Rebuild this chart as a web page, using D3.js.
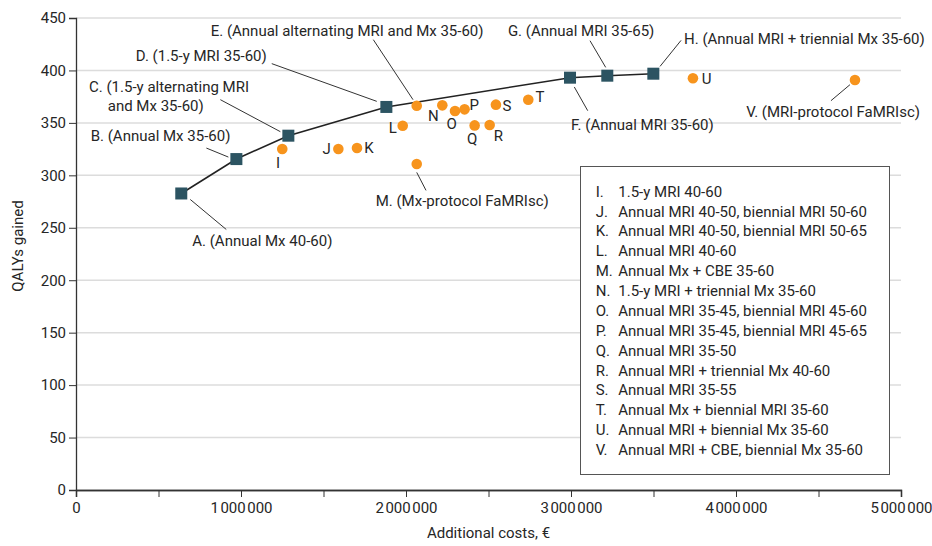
<!DOCTYPE html>
<html>
<head>
<meta charset="utf-8">
<script src="https://cdn.jsdelivr.net/npm/d3@7"></script>
<style>
  body { margin: 0; background: #fff; }
  svg { font-family: Roboto, "Liberation Sans", sans-serif; }
  text { fill: #262626; }
</style>
</head>
<body>
<div id="chart"></div>
<script>
// efficient frontier strategies (squares, joined by the line)
var frontierLetters = ['A', 'B', 'C', 'D', 'F', 'G', 'H'];
var frontierCosts = [638000, 972000, 1287000, 1881000, 2994000, 3220000, 3499000];
var frontierQalys = [282.7, 315.5, 337.8, 365.2, 393.1, 395.0, 396.9];

// dominated strategies (orange dots)
var otherLetters = ['E', 'I', 'J', 'K', 'L', 'M', 'N', 'O', 'P', 'Q', 'R', 'S', 'T', 'U', 'V'];
var otherCosts = [2065000, 1250000, 1590000, 1703000, 1980000, 2065000, 2220000, 2297000, 2355000, 2416000, 2507000, 2545000, 2741000, 3739000, 4721000];
var otherQalys = [366.4, 325.1, 325.1, 326.0, 347.3, 310.8, 366.7, 361.3, 362.9, 347.6, 348.0, 367.4, 372.1, 392.5, 390.9];

// callout texts on the chart
var calloutLetters = ['A', 'B', 'C', 'D', 'E', 'F', 'G', 'H', 'M', 'V'];
var calloutTexts = [
    ['A. (Annual Mx 40-60)'],
    ['B. (Annual Mx 35-60)'],
    ['C. (1.5-y alternating MRI', 'and Mx 35-60)'],
    ['D. (1.5-y MRI 35-60)'],
    ['E. (Annual alternating MRI and Mx 35-60)'],
    ['F. (Annual MRI 35-60)'],
    ['G. (Annual MRI 35-65)'],
    ['H. (Annual MRI + triennial Mx 35-60)'],
    ['M. (Mx-protocol FaMRIsc)'],
    ['V. (MRI-protocol FaMRIsc)']
];

// legend box
var legendLetters = ['I.', 'J.', 'K.', 'L.', 'M.', 'N.', 'O.', 'P.', 'Q.', 'R.', 'S.', 'T.', 'U.', 'V.'];
var legendTexts = [
    '1.5-y MRI 40-60',
    'Annual MRI 40-50, biennial MRI 50-60',
    'Annual MRI 40-50, biennial MRI 50-65',
    'Annual MRI 40-60',
    'Annual Mx + CBE 35-60',
    '1.5-y MRI + triennial Mx 35-60',
    'Annual MRI 35-45, biennial MRI 45-60',
    'Annual MRI 35-45, biennial MRI 45-65',
    'Annual MRI 35-50',
    'Annual MRI + triennial Mx 40-60',
    'Annual MRI 35-55',
    'Annual Mx + biennial MRI 35-60',
    'Annual MRI + biennial Mx 35-60',
    'Annual MRI + CBE, biennial Mx 35-60'
];

var xTicks = [0, 1000000, 2000000, 3000000, 4000000, 5000000];
var xMinorTicks = [500000, 1500000, 2500000, 3500000, 4500000];
var yTicks = [0, 50, 100, 150, 200, 250, 300, 350, 400, 450];

var svgWidth = 932;
var svgHeight = 546;
var margin = {top: 18, right: 31, bottom: 56, left: 76};
var width = svgWidth - margin.left - margin.right;
var height = svgHeight - margin.top - margin.bottom;

var svg = d3.select('#chart')
    .append('svg')
    .attr('width', svgWidth)
    .attr('height', svgHeight);

var chartGroup = svg.append('g')
    .attr('transform', `translate(${margin.left}, ${margin.top})`);

var xScale = d3.scaleLinear().domain([0, 5000000]).range([0, width]);
var yScale = d3.scaleLinear().domain([0, 450]).range([height, 0]);

// gridlines
chartGroup.selectAll('line.grid')
    .data(yTicks.slice(1))
    .enter()
    .append('line')
    .attr('class', 'grid')
    .attr('x1', 0)
    .attr('x2', width)
    .attr('y1', d => yScale(d))
    .attr('y2', d => yScale(d))
    .attr('stroke', '#dcdcdc')
    .attr('stroke-width', 1.5);

// thousands separated by a narrow space
var fmt = d => d === 0 ? '0' : d3.format(',')(d).replace(/,/g, '\u200A');

var xAxis = d3.axisBottom(xScale).tickValues(xTicks).tickFormat(fmt).tickSize(7).tickPadding(5);
var xMinor = d3.axisBottom(xScale).tickValues(xMinorTicks).tickFormat('').tickSize(7);
var yAxis = d3.axisLeft(yScale).tickValues(yTicks).tickSize(7).tickPadding(3);

chartGroup.append('g')
    .attr('transform', `translate(0,${height})`)
    .call(xMinor);
chartGroup.append('g')
    .attr('class', 'xaxis')
    .attr('transform', `translate(0,${height})`)
    .call(xAxis);
chartGroup.append('g')
    .attr('class', 'yaxis')
    .call(yAxis);

svg.selectAll('.domain').attr('stroke', '#333').attr('stroke-width', 1.3);
svg.selectAll('.tick line').attr('stroke', '#333').attr('stroke-width', 1);
svg.selectAll('.tick text')
    .attr('font-size', 15)
    .attr('fill', '#262626')
    .style('font-family', 'Roboto, sans-serif');

// axis titles
chartGroup.append('text')
    .attr('x', width / 2)
    .attr('y', height + 43)
    .attr('text-anchor', 'middle')
    .attr('dominant-baseline', 'central')
    .attr('font-size', 15)
    .text('Additional costs, €');

chartGroup.append('text')
    .attr('transform', 'rotate(-90)')
    .attr('x', -228)
    .attr('y', 0 - margin.left + 18)
    .attr('text-anchor', 'middle')
    .attr('dominant-baseline', 'central')
    .attr('font-size', 15)
    .text('QALYs gained');

// frontier line
var frontier = frontierCosts.map((c, i) => ({letter: frontierLetters[i], cost: c, qaly: frontierQalys[i]}));
var others = otherCosts.map((c, i) => ({letter: otherLetters[i], cost: c, qaly: otherQalys[i]}));
var all = frontier.concat(others);
var byLetter = {};
all.forEach(d => { byLetter[d.letter] = d; });

chartGroup.append('path')
    .datum(frontier)
    .attr('fill', 'none')
    .attr('stroke', '#222')
    .attr('stroke-width', 1.6)
    .attr('d', d3.line().x(d => xScale(d.cost)).y(d => yScale(d.qaly)));

// callout leader lines and texts (offsets in px from the mark)
var calloutLayout = {
    A: {line: [9, 6, 45, 36], tx: 11, ty: 48, anchor: 'start'},
    B: {line: [-30, -11, -8, -2], tx: -6, ty: -22.6, anchor: 'end'},
    C: {line: [-68, -36, -8, -4], tx: -199.3, ty: -48.7, anchor: 'start', indent: 18.7},
    D: {line: [-114.6, -43.3, -9.6, -5.6], tx: -119.6, ty: -51.3, anchor: 'end'},
    E: {line: [-43.4, -66, -3.7, -6], tx: -206, ty: -75, anchor: 'start'},
    F: {line: [4.3, 9.3, 17.7, 33], tx: 1, ty: 47, anchor: 'start'},
    G: {line: [-17.3, -35, -1.6, -8.3], tx: 47, ty: -44.3, anchor: 'end'},
    H: {line: [6.7, -7.3, 27.7, -33.3], tx: 30.7, ty: -34.7, anchor: 'start'},
    M: {line: [0, 8.4, 9.3, 26.4], tx: -41, ty: 37.4, anchor: 'start'},
    V: {line: [-5, 4.7, -24, 20.7], tx: 65, ty: 32, anchor: 'end'}
};

calloutLetters.forEach((letter, i) => {
    var d = byLetter[letter];
    var px = xScale(d.cost), py = yScale(d.qaly);
    var lay = calloutLayout[letter];
    chartGroup.append('line')
        .attr('x1', px + lay.line[0])
        .attr('y1', py + lay.line[1])
        .attr('x2', px + lay.line[2])
        .attr('y2', py + lay.line[3])
        .attr('stroke', '#333')
        .attr('stroke-width', 1);
    calloutTexts[i].forEach((t, j) => {
        chartGroup.append('text')
            .attr('x', px + lay.tx + (j > 0 ? lay.indent : 0))
            .attr('y', py + lay.ty + j * 18.7)
            .attr('text-anchor', lay.anchor)
            .attr('dominant-baseline', 'central')
            .attr('font-size', 15)
            .text(t);
    });
});

// single letters next to dots
var letterOffsets = {
    I: [-4.3, 13.7], J: [-11.6, 0], K: [12, 0], L: [-10, 2.3], N: [-9, 10.3],
    O: [-3.3, 12.7], P: [9.6, -4.4], Q: [-2.4, 13.6], R: [8.6, 10.7], S: [11, 1.3],
    T: [11.7, -2.3], U: [13.7, 0.6]
};
chartGroup.selectAll('text.pointLetter')
    .data(others.filter(d => letterOffsets[d.letter]))
    .enter()
    .append('text')
    .attr('class', 'pointLetter')
    .attr('x', d => xScale(d.cost) + letterOffsets[d.letter][0])
    .attr('y', d => yScale(d.qaly) + letterOffsets[d.letter][1])
    .attr('text-anchor', 'middle')
    .attr('dominant-baseline', 'central')
    .attr('font-size', 15)
    .text(d => d.letter);

// marks
chartGroup.selectAll('circle')
    .data(others)
    .enter()
    .append('circle')
    .attr('cx', d => xScale(d.cost))
    .attr('cy', d => yScale(d.qaly))
    .attr('r', 5.3)
    .attr('fill', '#f7941d');

chartGroup.selectAll('rect.frontier')
    .data(frontier)
    .enter()
    .append('rect')
    .attr('class', 'frontier')
    .attr('x', d => xScale(d.cost) - 6)
    .attr('y', d => yScale(d.qaly) - 6)
    .attr('width', 12)
    .attr('height', 12)
    .attr('fill', '#2c5462');

// legend
var legendGroup = svg.append('g');
legendGroup.append('rect')
    .attr('x', 580.5)
    .attr('y', 166.5)
    .attr('width', 309)
    .attr('height', 308)
    .attr('fill', '#fff')
    .attr('stroke', '#555')
    .attr('stroke-width', 1);

legendGroup.selectAll('text.legLetter')
    .data(legendLetters)
    .enter()
    .append('text')
    .attr('class', 'legLetter')
    .attr('x', 595.7)
    .attr('y', (d, i) => 191.7 + i * 19.87)
    .attr('dominant-baseline', 'central')
    .attr('font-size', 15)
    .text(d => d);

legendGroup.selectAll('text.legText')
    .data(legendTexts)
    .enter()
    .append('text')
    .attr('class', 'legText')
    .attr('x', 618.3)
    .attr('y', (d, i) => 191.7 + i * 19.87)
    .attr('dominant-baseline', 'central')
    .attr('font-size', 15)
    .text(d => d);
</script>
</body>
</html>
